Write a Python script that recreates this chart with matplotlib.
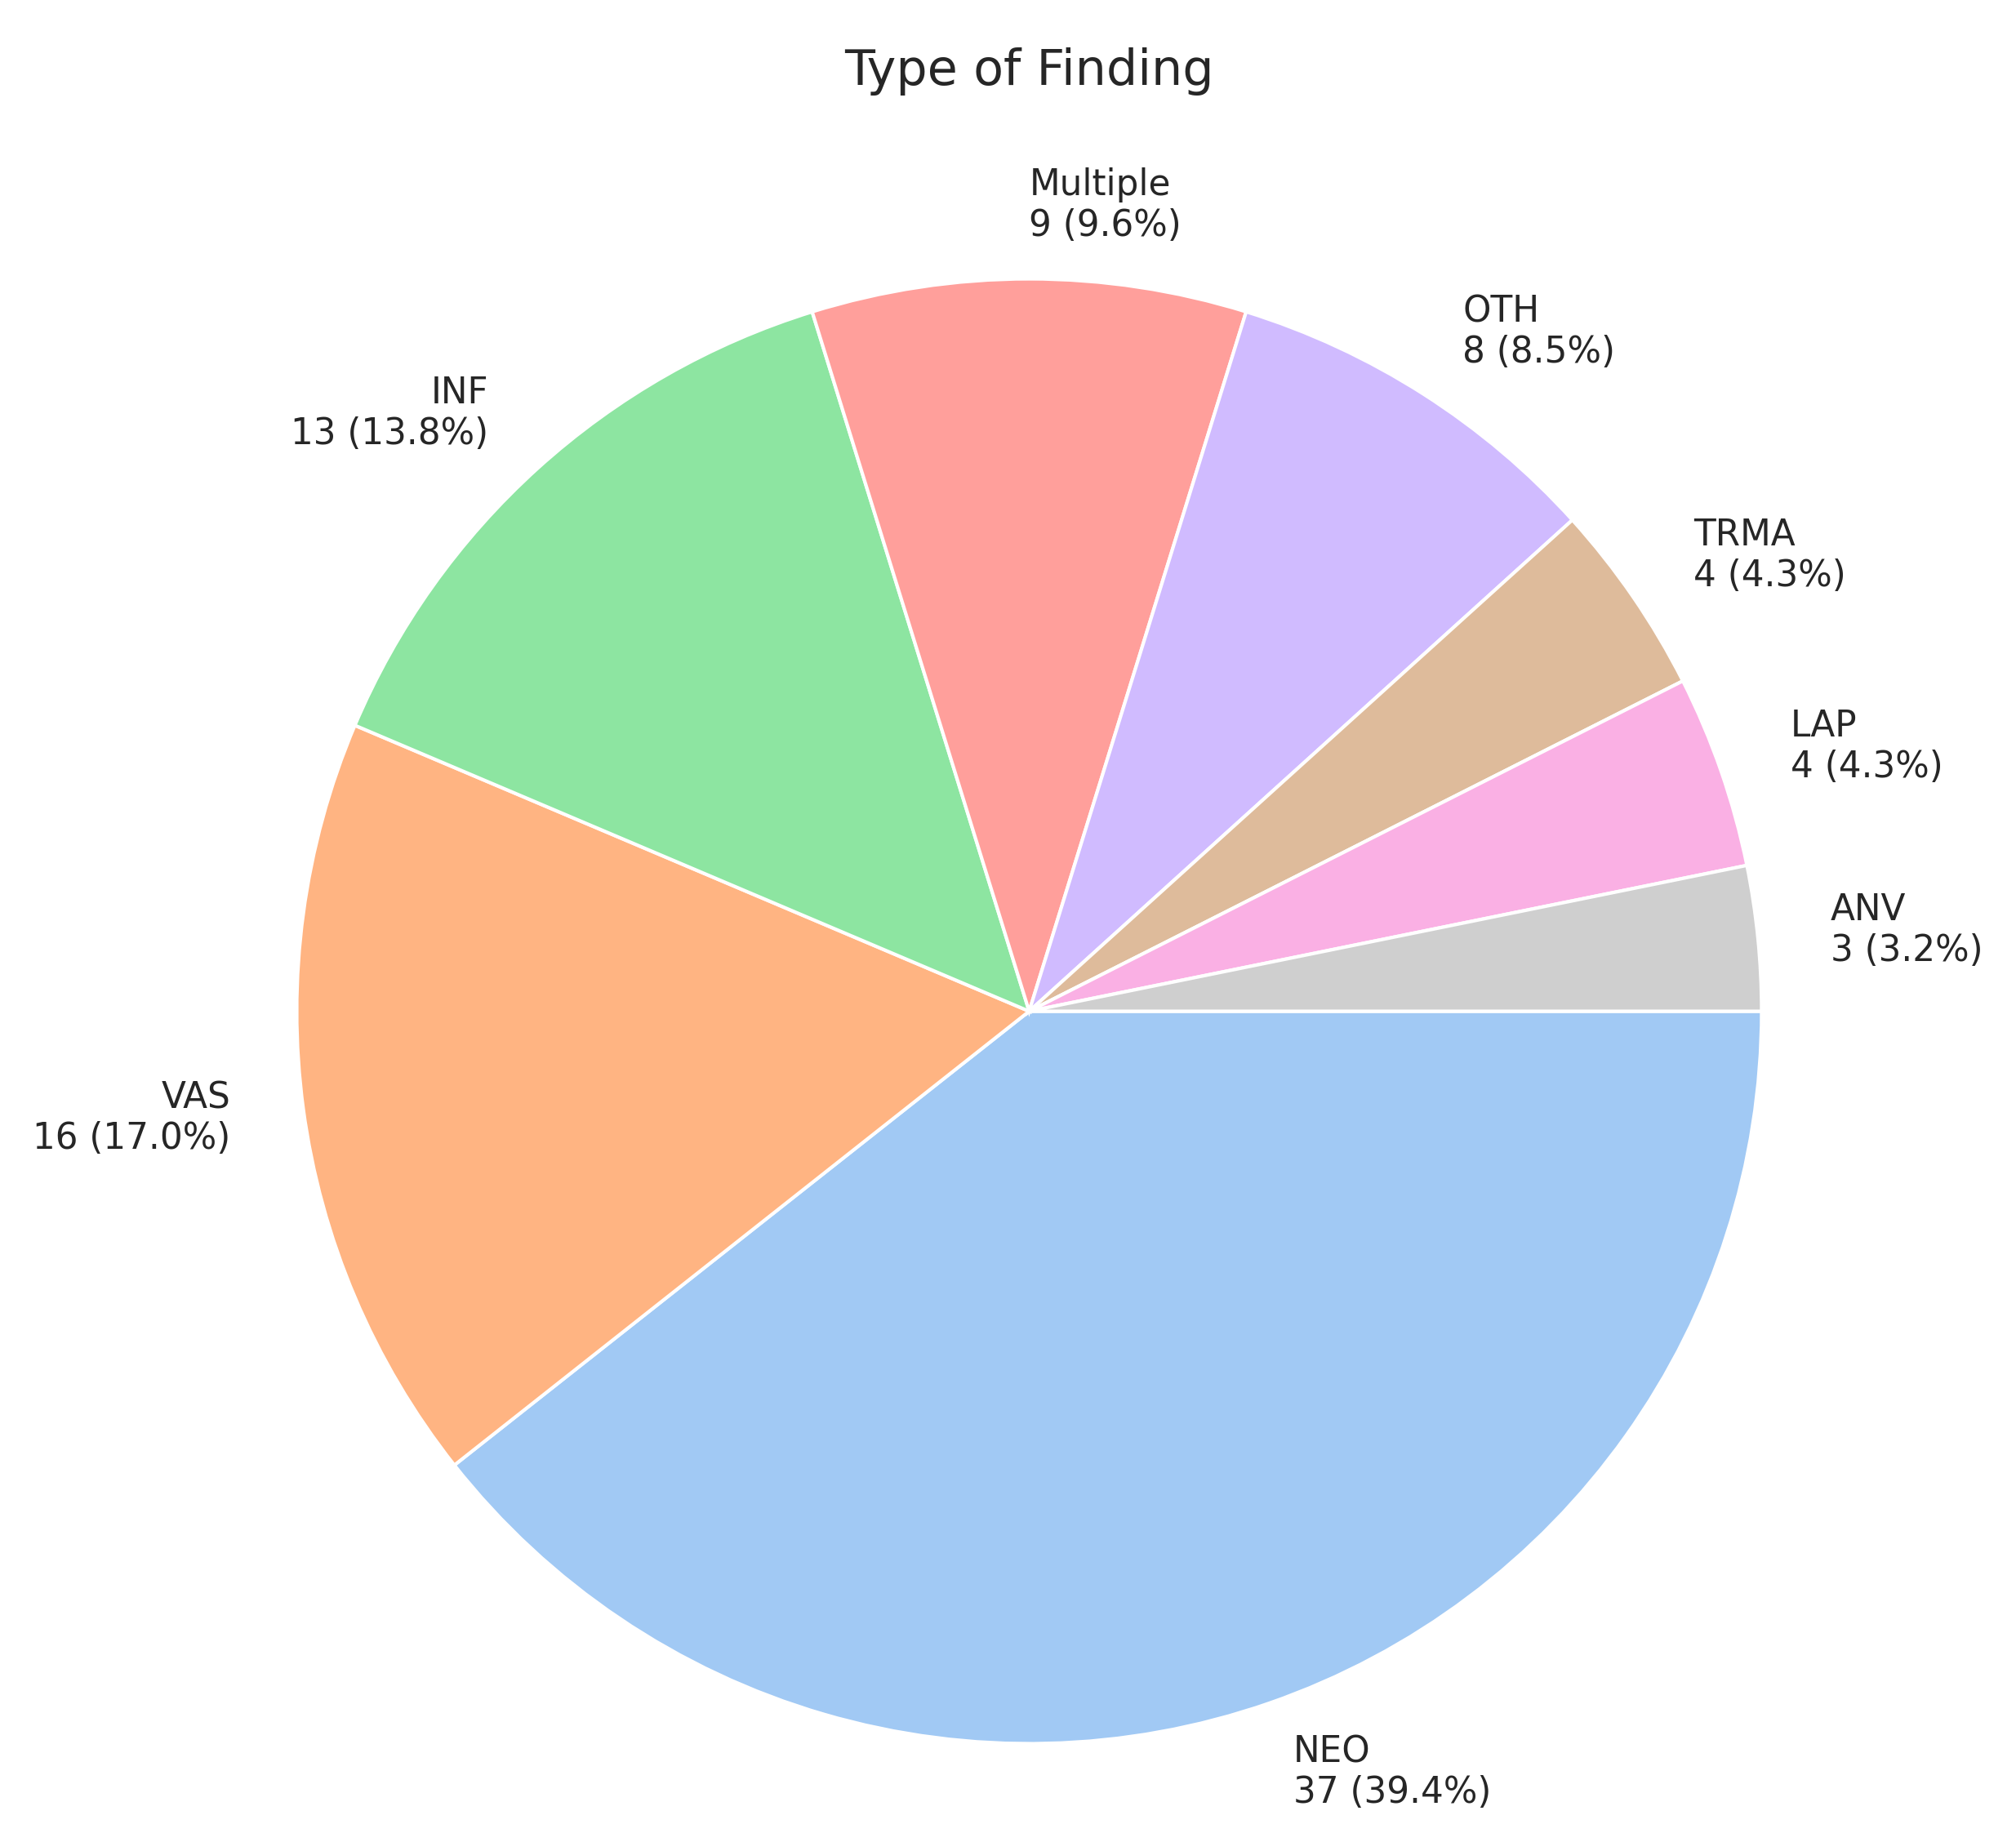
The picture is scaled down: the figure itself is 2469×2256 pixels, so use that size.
import matplotlib
matplotlib.use("Agg")
import matplotlib.pyplot as plt
import seaborn as sns

# Counts per finding type
categories = ["NEO", "VAS", "INF", "Multiple", "OTH", "TRMA", "LAP", "ANV"]
counts = [37, 16, 13, 9, 8, 4, 4, 3]

total = sum(counts)
labels = [f"{c}\n{n} ({n / total * 100:.1f}%)" for c, n in zip(categories, counts)]
colors = sns.color_palette("pastel")[:len(counts)]

fig = plt.figure(figsize=(8.23, 7.52), dpi=300)
ax = fig.add_axes([0.056, -0.046, 0.909, 0.994])
ax.pie(counts, labels=labels, colors=colors, startangle=0, counterclock=False,
       labeldistance=1.1, wedgeprops=dict(edgecolor="white", linewidth=1),
       textprops=dict(fontsize=10.5, color="#262626"))
ax.set_title("Type of Finding", fontsize=14.5, color="#262626", pad=2)
ax.set_aspect("equal")
fig.savefig("out.png", dpi=300, facecolor="white")
